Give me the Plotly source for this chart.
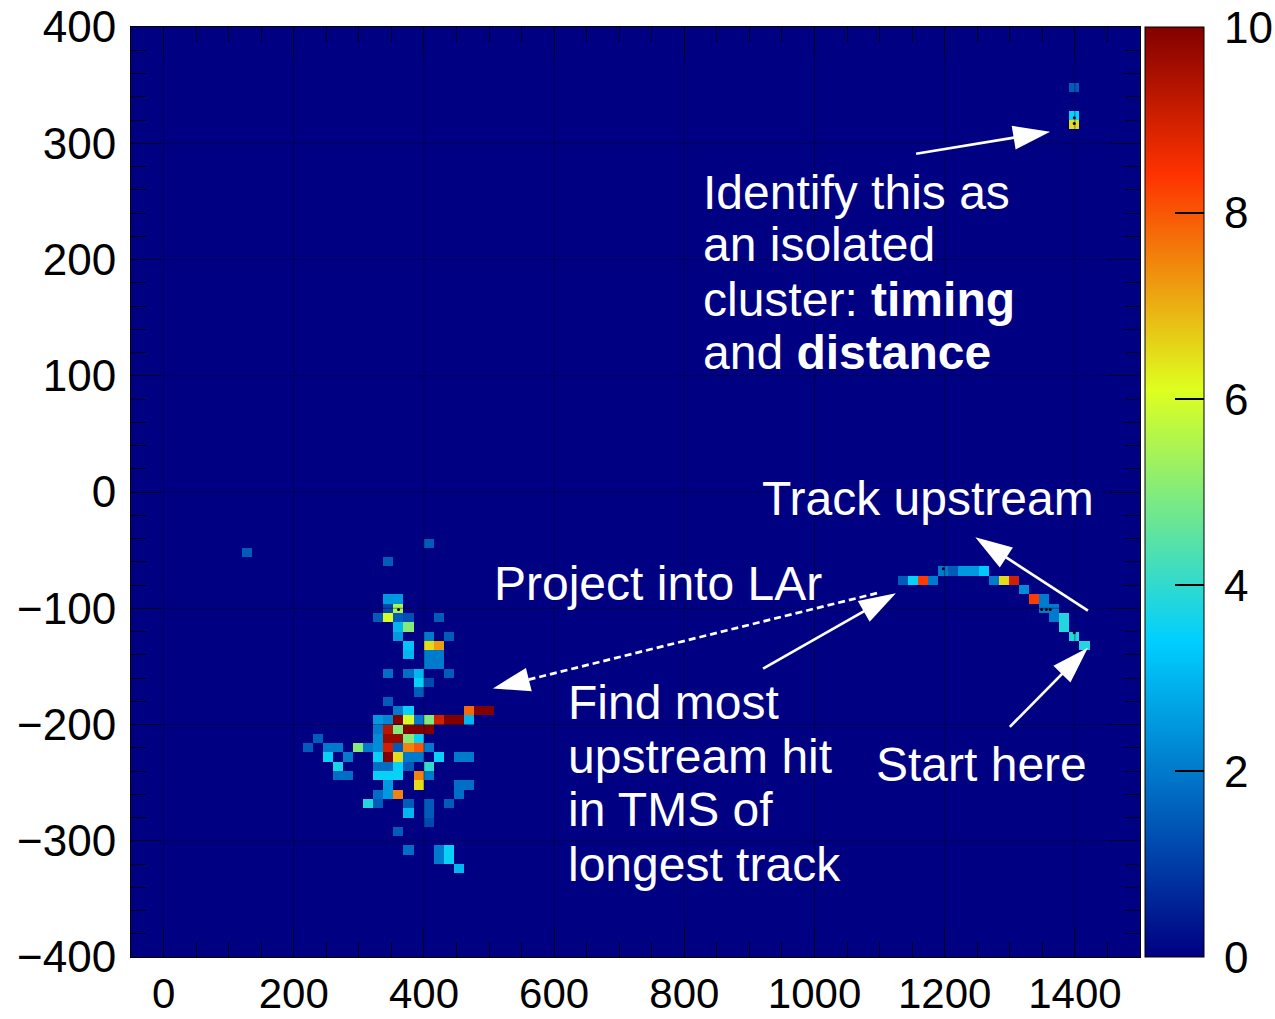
import numpy as np
import plotly.graph_objects as go

# ---- histogram binning (x: -50..1500 cm, y: -400..400 cm) ----
X_MIN, X_MAX, NX = -50.0, 1500.0, 100
Y_MIN, Y_MAX, NY = -400.0, 400.0, 100

# ---- hits in the hadronic shower (x [cm], y [cm], charge) ----
shower_x = [128, 407, 345, 345, 361, 361, 345, 330, 345, 361, 376, 423,
            361, 376, 361, 407, 438, 376, 407, 423, 376, 407, 423, 407, 423,
            345, 376, 392, 438, 392, 407, 392, 345, 361, 376, 469, 485, 500,
            330, 345, 361, 376, 392, 407, 423, 438, 454, 469,
            330, 345, 361, 376, 392, 407,
            237, 330, 345, 361, 376, 392,
            221, 252, 268, 299, 314, 330, 345, 361, 376, 392, 407,
            252, 283, 330, 345, 361, 376, 392, 423, 454, 469,
            268, 330, 345, 361, 376, 407,
            268, 283, 330, 345, 361, 392, 407,
            345, 392, 454, 469,
            330, 345, 361, 454,
            314, 330, 376, 407, 438,
            376, 407, 407, 361, 376, 423, 438, 423, 438, 454]
shower_y = [-52, -44, -60, -92, -92, -100, -100, -108, -108, -108, -108, -108,
            -116, -116, -124, -124, -124, -132, -132, -132, -140, -140, -140, -148, -148,
            -156, -156, -156, -156, -164, -164, -172, -180, -188, -188, -188, -188, -188,
            -196, -196, -196, -196, -196, -196, -196, -196, -196, -196,
            -204, -204, -204, -204, -204, -204,
            -212, -212, -212, -212, -212, -212,
            -220, -220, -220, -220, -220, -220, -220, -220, -220, -220, -220,
            -228, -228, -228, -228, -228, -228, -228, -228, -228, -228,
            -236, -236, -236, -236, -236, -236,
            -244, -244, -244, -244, -244, -244, -244,
            -252, -252, -252, -252,
            -260, -260, -260, -260,
            -268, -268, -268, -268, -268,
            -276, -276, -284, -292, -308, -308, -308, -316, -316, -324]
shower_q = [1.5, 1.5, 1.5, 2.5, 2.5, 5.5, 1.2, 1.5, 6.0, 1.5, 1.3, 1.5,
            3.0, 5.0, 2.5, 2.0, 1.5, 3.2, 6.5, 7.2, 3.0, 2.0, 2.0, 2.0, 2.0,
            1.8, 1.8, 3.0, 1.5, 3.5, 1.2, 1.5, 1.5, 2.0, 3.5, 7.8, 10.0, 10.0,
            2.5, 2.2, 10.0, 6.0, 2.0, 5.0, 9.0, 10.0, 10.0, 3.0,
            2.0, 9.3, 5.0, 10.0, 10.0, 10.0,
            1.5, 2.3, 9.7, 9.7, 5.0, 3.5,
            1.5, 2.0, 2.0, 5.0, 2.0, 2.3, 9.0, 1.5, 7.5, 8.0, 2.0,
            3.5, 2.0, 3.5, 10.0, 6.5, 2.0, 2.0, 3.5, 2.0, 2.0,
            3.7, 1.8, 1.8, 3.5, 1.5, 4.0,
            1.8, 1.8, 3.5, 3.5, 3.5, 7.5, 2.0,
            2.5, 6.5, 1.8, 1.8,
            1.8, 2.5, 7.5, 1.8,
            3.8, 1.5, 1.5, 1.5, 1.5,
            3.0, 1.5, 1.2, 1.5, 1.8, 2.0, 3.5, 2.0, 3.5, 3.0]

# ---- hits on the longest TMS track ----
track_x = [1136, 1151, 1167, 1182, 1198, 1213, 1229, 1244, 1260, 1275, 1291,
           1306, 1322, 1337, 1353, 1353, 1368, 1368, 1384, 1384, 1399, 1415]
track_y = [-76, -76, -76, -76, -68, -68, -68, -68, -68, -76, -76,
           -76, -84, -92, -92, -100, -100, -108, -108, -116, -124, -132]
track_q = [1.5, 3.5, 8.3, 2.0, 2.0, 1.5, 2.5, 2.5, 3.3, 2.0, 6.5,
           9.0, 2.3, 8.3, 2.0, 2.0, 2.0, 2.0, 3.8, 3.8, 3.8, 3.8]

# ---- isolated cluster ----
iso_x = [1399, 1399, 1399]
iso_y = [348, 324, 316]
iso_q = [1.5, 3.5, 6.5]

# ---- reconstructed hit markers ----
reco_x = [1399, 1399, 361, 1198, 1349, 1356, 1362, 1399]
reco_y = [322, 317, -101, -66, -101, -101, -101, -121]

# ---- axes ----
X_TICKS = [0, 200, 400, 600, 800, 1000, 1200, 1400]
Y_TICKS = [-400, -300, -200, -100, 0, 100, 200, 300, 400]
Z_MIN, Z_MAX = 0, 10
Z_TICKS = [0, 2, 4, 6, 8, 10]

# ---- annotation text (left edge x, middle y) ----
labels = [
    ("Identify this as", 826, 258),
    ("an isolated", 826, 212.5),
    ("cluster: <b>timing</b>", 826, 166),
    ("and <b>distance</b>", 826, 119.6),
    ("Track upstream", 916, -5.2),
    ("Project into LAr", 505, -78.3),
    ("Find most", 618, -181.5),
    ("upstream hit", 618, -227.1),
    ("in TMS of", 618, -273.5),
    ("longest track", 618, -320),
    ("Start here", 1091, -234.8),
]

# ---- arrows: tail x, tail y, tip x, tip y, dashed ----
arrows = [
    (1156, 291, 1362, 310, False),
    (1420, -102, 1247, -39, False),
    (1300, -202, 1420, -134, False),
    (921, -152, 1125, -87, False),
    (1096, -87, 506, -169, True),
]

# build the 2D histogram
all_x = np.array(shower_x + track_x + iso_x, dtype=float)
all_y = np.array(shower_y + track_y + iso_y, dtype=float)
all_q = np.array(shower_q + track_q + iso_q, dtype=float)
z, xe, ye = np.histogram2d(all_x, all_y, bins=[NX, NY],
                           range=[[X_MIN, X_MAX], [Y_MIN, Y_MAX]], weights=all_q)
xc = 0.5 * (xe[:-1] + xe[1:])
yc = 0.5 * (ye[:-1] + ye[1:])

colorscale = [
    [0.00, "rgb(0,0,130)"],
    [0.34, "rgb(0,207,255)"],
    [0.61, "rgb(222,255,31)"],
    [0.84, "rgb(255,51,0)"],
    [1.00, "rgb(130,0,0)"],
]

W, H = 1275, 1019
ML, MR, MT, MB = 131, 135, 27, 62
plot_w = W - ML - MR
plot_h = H - MT - MB
px_per_x = plot_w / (X_MAX - X_MIN)
px_per_y = plot_h / (Y_MAX - Y_MIN)
CB_GAP, CB_THICK, CB_LABEL_GAP = 5, 59, 18

fig = go.Figure()
fig.add_trace(go.Heatmap(
    x=xc, y=yc, z=z.T, zmin=Z_MIN, zmax=Z_MAX, colorscale=colorscale,
    hoverinfo="skip",
    colorbar=dict(
        x=1 + CB_GAP / plot_w, xanchor="left", xpad=0, y=0.5,
        yanchor="middle", len=1, lenmode="fraction", ypad=0,
        thickness=CB_THICK, thicknessmode="pixels",
        outlinewidth=1, outlinecolor="black",
        tickvals=Z_TICKS, ticks="inside", ticklen=29, tickwidth=1.5,
        tickcolor="black", showticklabels=False,
    ),
))
fig.add_trace(go.Scatter(
    x=reco_x, y=reco_y, mode="markers",
    marker=dict(color="black", size=3), hoverinfo="skip", showlegend=False,
))

shapes = []
# grid lines drawn above the colour map
for v in X_TICKS:
    shapes.append(dict(type="line", xref="x", yref="y", x0=v, x1=v,
                       y0=Y_MIN, y1=Y_MAX, layer="above",
                       line=dict(color="rgba(0,0,40,0.45)", width=1)))
for v in Y_TICKS[1:-1]:
    shapes.append(dict(type="line", xref="x", yref="y", x0=X_MIN, x1=X_MAX,
                       y0=v, y1=v, layer="above",
                       line=dict(color="rgba(0,0,40,0.45)", width=1)))

# arrows with filled triangular heads
HEAD_LEN, HEAD_HALF = 37.0, 12.0
for x0, y0, x1, y1, dashed in arrows:
    dxp = (x1 - x0) * px_per_x
    dyp = (y1 - y0) * px_per_y
    L = np.hypot(dxp, dyp)
    ux, uy = dxp / L, dyp / L
    bx = x1 - ux * HEAD_LEN / px_per_x
    by = y1 - uy * HEAD_LEN / px_per_y
    lx = bx - uy * HEAD_HALF / px_per_x
    ly = by + ux * HEAD_HALF / px_per_y
    rx = bx + uy * HEAD_HALF / px_per_x
    ry = by - ux * HEAD_HALF / px_per_y
    shapes.append(dict(type="line", xref="x", yref="y", x0=x0, y0=y0,
                       x1=bx + ux * 2 / px_per_x, y1=by + uy * 2 / px_per_y,
                       layer="above",
                       line=dict(color="white", width=2.7,
                                 dash="7px,4px" if dashed else "solid")))
    shapes.append(dict(type="path", xref="x", yref="y", layer="above",
                       path=f"M{x1},{y1} L{lx},{ly} L{rx},{ry} Z",
                       fillcolor="white", line=dict(width=0)))

annotations = [
    dict(text=t, x=x, y=y, xref="x", yref="y", xanchor="left",
         yanchor="middle", showarrow=False,
         font=dict(family="Liberation Sans", size=48, color="white"))
    for t, x, y in labels
]
# colour-bar scale labels
cb_label_x = 1 + (CB_GAP + CB_THICK + CB_LABEL_GAP) / plot_w
for v in Z_TICKS:
    annotations.append(dict(
        text=str(v), x=cb_label_x, y=(v - Z_MIN) / (Z_MAX - Z_MIN),
        xref="paper", yref="paper", xanchor="left", yanchor="middle",
        showarrow=False,
        font=dict(family="Liberation Sans", size=44, color="black")))

axis_common = dict(
    showgrid=False, zeroline=False, showline=True, linecolor="black",
    linewidth=1, mirror="allticks", ticks="inside", ticklen=30, tickwidth=1.2,
    tickcolor="rgb(0,0,30)", layer="above traces", automargin=False,
)

fig.update_layout(
    width=W, height=H,
    margin=dict(l=ML, r=MR, t=MT, b=MB, pad=0, autoexpand=False),
    paper_bgcolor="white", plot_bgcolor="rgb(0,0,130)",
    xaxis=dict(range=[X_MIN, X_MAX], tickvals=X_TICKS, ticklabelstandoff=0,
               tickfont=dict(family="Liberation Sans", size=42, color="black"),
               minor=dict(dtick=50, tick0=0, ticks="inside", ticklen=15,
                          tickcolor="rgb(0,0,30)", showgrid=False),
               **axis_common),
    yaxis=dict(range=[Y_MIN, Y_MAX], tickvals=Y_TICKS, ticklabelstandoff=5,
               tickfont=dict(family="Liberation Sans", size=44, color="black"),
               minor=dict(dtick=20, tick0=0, ticks="inside", ticklen=15,
                          tickcolor="rgb(0,0,30)", showgrid=False),
               **axis_common),
    shapes=shapes,
    annotations=annotations,
    showlegend=False,
)

fig.write_html("out.html")
